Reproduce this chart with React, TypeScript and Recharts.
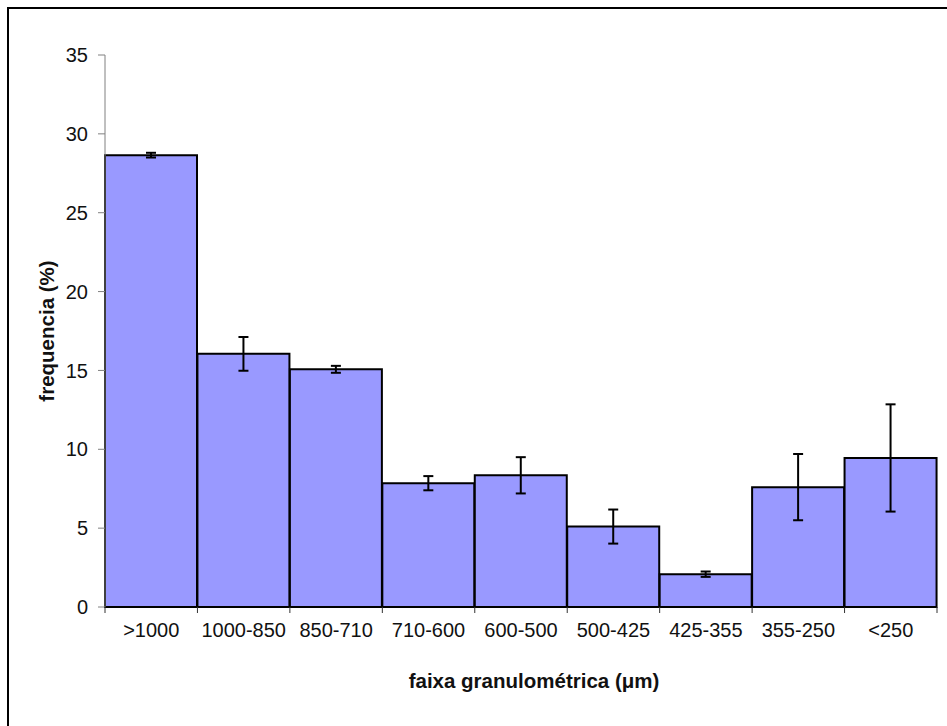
import React from 'react';
import { BarChart, Bar, XAxis, YAxis, ErrorBar, Label } from 'recharts';

const faixas = ['>1000', '1000-850', '850-710', '710-600', '600-500', '500-425', '425-355', '355-250', '<250'];
const frequencia = [28.65, 16.05, 15.07, 7.85, 8.35, 5.1, 2.08, 7.6, 9.45];
const desvio = [0.15, 1.07, 0.22, 0.45, 1.15, 1.08, 0.17, 2.1, 3.4];
const yTicks = [0, 5, 10, 15, 20, 25, 30, 35];

const data = faixas.map((f, i) => ({ faixa: f, freq: frequencia[i], err: desvio[i] }));

const W = 947;
const H = 726;
const PLOT_LEFT = 105;
const PLOT_RIGHT = 937;
const BAND = (PLOT_RIGHT - PLOT_LEFT) / faixas.length;
const TICK_SIZE = 6;
const TICK_MARGIN = 10;

const font = 'Liberation Sans, Arial, sans-serif';

const XTick = (props: any) => {
  const { x, y, payload, index } = props;
  const axisY = y - TICK_SIZE - TICK_MARGIN;
  return (
    <g>
      <line x1={x - BAND / 2} x2={x - BAND / 2} y1={axisY} y2={axisY + TICK_SIZE} stroke="#333" strokeWidth={1} />
      {index === faixas.length - 1 && (
        <line x1={x + BAND / 2} x2={x + BAND / 2} y1={axisY} y2={axisY + TICK_SIZE} stroke="#333" strokeWidth={1} />
      )}
      <text x={x} y={y} dy="0.71em" textAnchor="middle" fontSize={20} fontFamily={font} fill="#111">
        {payload.value}
      </text>
    </g>
  );
};

export default function App() {
  return (
    <div style={{ position: 'absolute', left: 0, top: 0, width: W, height: H, background: '#fff', overflow: 'hidden' }}>
      <div style={{ position: 'absolute', left: 7, top: 7, width: W + 20, height: H + 20, borderTop: '2px solid #000', borderLeft: '2px solid #000' }} />
      <BarChart
        width={W}
        height={H}
        data={data}
        margin={{ top: 55, right: W - PLOT_RIGHT, left: 15, bottom: 0 }}
        barCategoryGap={0}
        style={{ position: 'absolute', left: 0, top: 0 }}
      >
        <XAxis
          dataKey="faixa"
          height={H - 607}
          axisLine={{ stroke: '#000', strokeWidth: 2 }}
          tickLine={false}
          tickSize={TICK_SIZE}
          tickMargin={TICK_MARGIN}
          interval={0}
          tick={<XTick />}
        >
          <Label
            value="faixa granulométrica (μm)"
            position="insideBottom"
            offset={38}
            dx={13}
            style={{ fontSize: 20.5, fontWeight: 'bold', fontFamily: font, fill: '#111' }}
          />
        </XAxis>
        <YAxis
          width={PLOT_LEFT - 15}
          domain={[0, 35]}
          ticks={yTicks}
          interval={0}
          axisLine={{ stroke: '#808080' }}
          tickLine={{ stroke: '#808080' }}
          tickSize={7}
          tickMargin={10}
          tick={{ fontSize: 20, fontFamily: font, fill: '#111' }}
        >
          <Label
            value="frequencia (%)"
            angle={-90}
            position="insideLeft"
            offset={32}
            style={{ textAnchor: 'middle', fontSize: 20.5, fontWeight: 'bold', fontFamily: font, fill: '#111' }}
          />
        </YAxis>
        <Bar dataKey="freq" fill="#9999FF" stroke="#000" strokeWidth={2} isAnimationActive={false}>
          <ErrorBar dataKey="err" width={5} stroke="#000" strokeWidth={2} direction="y" />
        </Bar>
      </BarChart>
    </div>
  );
}
